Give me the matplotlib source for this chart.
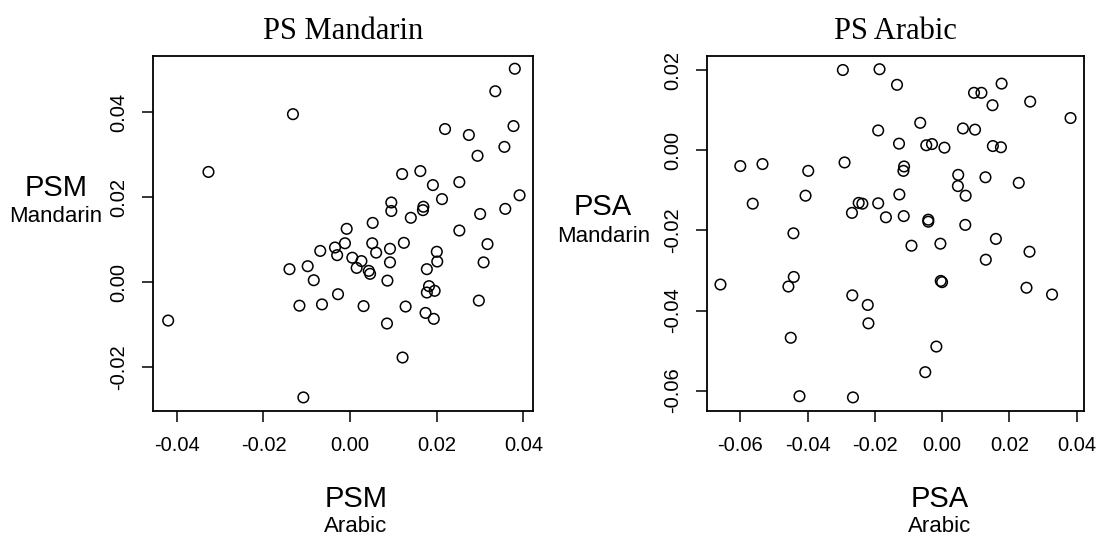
import matplotlib
matplotlib.use('Agg')
import matplotlib.pyplot as plt

plt.rcParams['font.family'] = ['Liberation Sans', 'DejaVu Sans']

# PS Mandarin: PSM Arabic (x) vs PSM Mandarin (y)
psm_arabic = [0.0380, 0.0335, -0.0132, 0.0219, 0.0274, 0.0377, 0.0356, 0.0294, -0.0327, 0.0120,
              0.0162, 0.0191, 0.0252, 0.0391, 0.0212, 0.0095, 0.0095, 0.0169, 0.0168, 0.0300,
              0.0358, 0.0140, 0.0052, -0.0008, 0.0252, -0.0012, 0.0051, 0.0124, 0.0317, -0.0035,
              -0.0069, -0.0030, 0.0005, 0.0026, 0.0060, 0.0092, 0.0092, 0.0200, 0.0201, 0.0308,
              -0.0140, -0.0098, 0.0015, 0.0043, 0.0046, 0.0177, -0.0084, 0.0086, 0.0182, 0.0177,
              0.0195, -0.0028, 0.0297, -0.0117, -0.0065, 0.0031, 0.0128, 0.0174, 0.0193, 0.0085,
              -0.0420, 0.0121, -0.0108]
psm_mandarin = [0.0503, 0.0450, 0.0396, 0.0361, 0.0347, 0.0368, 0.0319, 0.0298, 0.0260, 0.0255,
                0.0262, 0.0229, 0.0236, 0.0205, 0.0196, 0.0188, 0.0168, 0.0178, 0.0170, 0.0161,
                0.0173, 0.0152, 0.0140, 0.0126, 0.0122, 0.0092, 0.0092, 0.0093, 0.0090, 0.0082,
                0.0074, 0.0064, 0.0058, 0.0050, 0.0070, 0.0079, 0.0047, 0.0072, 0.0049, 0.0047,
                0.0031, 0.0038, 0.0034, 0.0027, 0.0020, 0.0031, 0.0005, 0.0004, -0.0009, -0.0024,
                -0.0020, -0.0028, -0.0043, -0.0055, -0.0052, -0.0056, -0.0057, -0.0072, -0.0086, -0.0097,
                -0.0090, -0.0177, -0.0271]

# PS Arabic: PSA Arabic (x) vs PSA Mandarin (y)
psa_arabic = [-0.0295, -0.0186, -0.0134, 0.0095, 0.0117, 0.0177, 0.0150, 0.0262, 0.0382, -0.0065,
              -0.0190, 0.0062, 0.0098, -0.0128, -0.0047, -0.0030, 0.0007, 0.0151, 0.0175, -0.0600,
              -0.0534, -0.0398, -0.0290, -0.0113, -0.0115, 0.0048, 0.0129, 0.0047, 0.0228, -0.0563,
              -0.0406, -0.0127, 0.0070, -0.0248, -0.0237, -0.0190, -0.0268, -0.0167, -0.0114, -0.0041,
              -0.0041, 0.0069, -0.0442, 0.0160, -0.0091, -0.0005, 0.0260, 0.0130, -0.0659, -0.0441,
              -0.0457, -0.0267, -0.0221, -0.0219, -0.0004, 0.0000, 0.0251, 0.0327, -0.0450, -0.0017,
              -0.0050, -0.0424, -0.0265]
psa_mandarin = [0.0201, 0.0203, 0.0164, 0.0144, 0.0144, 0.0167, 0.0113, 0.0122, 0.0081, 0.0069,
                0.0050, 0.0055, 0.0052, 0.0017, 0.0013, 0.0016, 0.0007, 0.0011, 0.0008, -0.0039,
                -0.0034, -0.0051, -0.0030, -0.0040, -0.0051, -0.0061, -0.0067, -0.0089, -0.0081, -0.0133,
                -0.0113, -0.0110, -0.0113, -0.0131, -0.0133, -0.0132, -0.0156, -0.0167, -0.0164, -0.0173,
                -0.0178, -0.0186, -0.0207, -0.0221, -0.0238, -0.0233, -0.0253, -0.0273, -0.0335, -0.0316,
                -0.0340, -0.0362, -0.0386, -0.0432, -0.0326, -0.0329, -0.0343, -0.0360, -0.0468, -0.0490,
                -0.0554, -0.0614, -0.0617]

left_xticks = [-0.04, -0.02, 0.00, 0.02, 0.04]
left_yticks = [-0.02, 0.00, 0.02, 0.04]
right_xticks = [-0.06, -0.04, -0.02, 0.00, 0.02, 0.04]
right_yticks = [-0.06, -0.04, -0.02, 0.00, 0.02]

W, H = 1096, 538
fig = plt.figure(figsize=(W / 100, H / 100), dpi=100)


def px_axes(x0, y0, x1, y1):
    return fig.add_axes([x0 / W, 1 - y1 / H, (x1 - x0) / W, (y1 - y0) / H])


def style(ax, xt, yt, title):
    ax.set_xticks(xt)
    ax.set_yticks(yt)
    ax.set_xticklabels(['%.2f' % v for v in xt])
    ax.set_yticklabels(['%.2f' % v for v in yt], rotation=90, va='center')
    ax.tick_params(length=8, width=1.1, labelsize=14.5, pad=10, color='black')
    for s in ax.spines.values():
        s.set_linewidth(1.3)
    ax.set_title(title, fontsize=22, family='Liberation Serif', pad=12)


ax1 = px_axes(153, 56, 533, 411)
ax1.scatter(psm_arabic, psm_mandarin, s=58, facecolors='none', edgecolors='black', linewidths=1.1)
ax1.set_xlim(-0.0455, 0.0422)
ax1.set_ylim(-0.0303, 0.0533)
style(ax1, left_xticks, left_yticks, 'PS Mandarin')

ax2 = px_axes(707, 56, 1084, 411)
ax2.scatter(psa_arabic, psa_mandarin, s=58, facecolors='none', edgecolors='black', linewidths=1.1)
ax2.set_xlim(-0.0699, 0.0422)
ax2.set_ylim(-0.0651, 0.0236)
style(ax2, right_xticks, right_yticks, 'PS Arabic')


def label(x, y, txt, size):
    fig.text(x / W, 1 - y / H, txt, fontsize=size, ha='center', va='center')


label(56, 188, 'PSM', 21)
label(56, 217, 'Mandarin', 16)
label(603, 207, 'PSA', 21)
label(604, 237, 'Mandarin', 16)
label(356, 499, 'PSM', 21)
label(356, 527, 'Arabic', 16)
label(940, 499, 'PSA', 21)
label(940, 527, 'Arabic', 16)

fig.savefig('out.png', dpi=100)
